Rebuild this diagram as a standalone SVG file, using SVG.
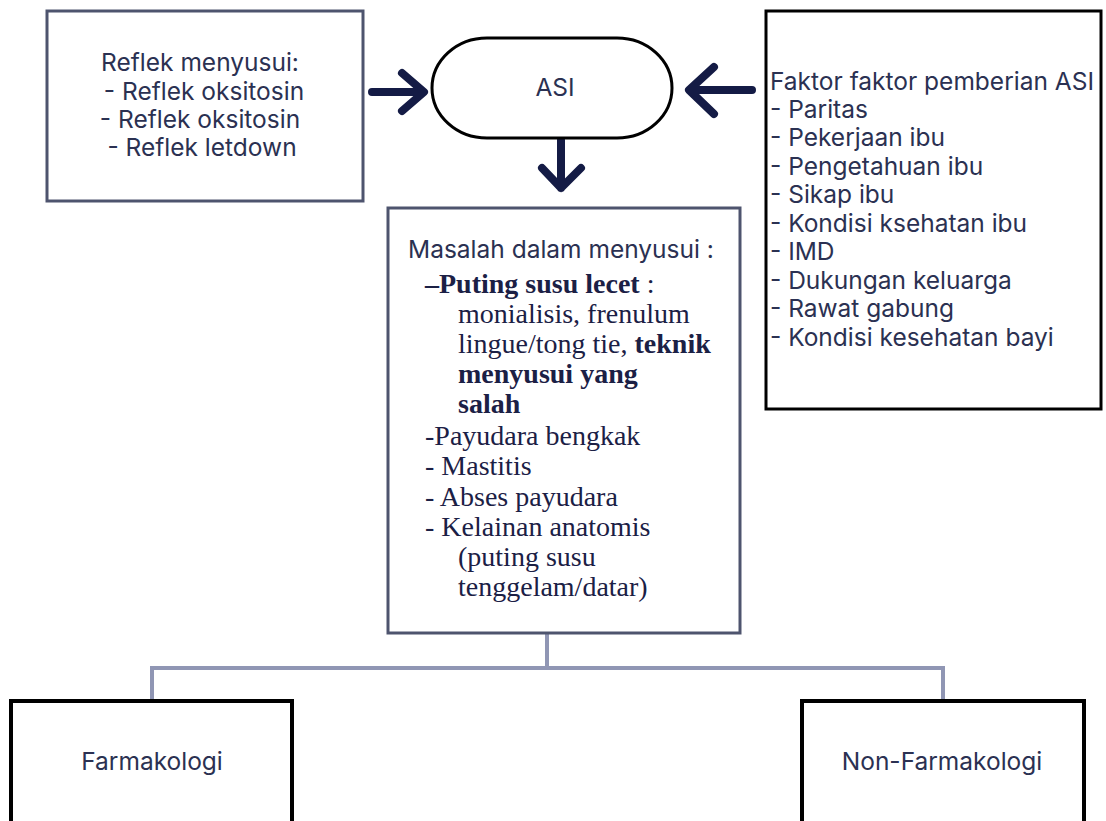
<svg xmlns="http://www.w3.org/2000/svg" width="1106" height="821" viewBox="0 0 1106 821">
<style>
.sans{font-family:Inter,"Liberation Sans",sans-serif;font-size:24.5px;fill:#2b3152}
.serif{font-family:"Liberation Serif","Times New Roman",serif;font-size:28px;fill:#1b2045}
.b{font-weight:bold}
.box{fill:#fff;stroke:#4e546e;stroke-width:3}
.blk{fill:#fff;stroke:#000;stroke-width:3}
.arr{fill:none;stroke:#141b45;stroke-width:8;stroke-linecap:round;stroke-linejoin:round}
.con{fill:none;stroke:#9096b4;stroke-width:4}
</style>
<rect width="1106" height="821" fill="#fff"/>
<g id="connectors">
<path class="con" d="M547 633 V668 M152 668 H943 M152 666 V701 M943 666 V701"/>
<path class="arr" d="M372 92 H423 M402 73 L424 92 L402 111"/>
<path class="arr" d="M752 90 H690 M714 67 L689 90 L714 114"/>
<path class="arr" d="M561 140 V188 M542 168 L561 188 L581 168"/>
</g>
<g id="refleks">
<rect class="box" x="47" y="11" width="316" height="190"/>
<text class="sans" text-anchor="middle"><tspan x="200" y="71">Reflek menyusui:</tspan><tspan x="204" y="100">- Reflek oksitosin</tspan><tspan x="200" y="128">- Reflek oksitosin</tspan><tspan x="202" y="156">- Reflek letdown</tspan></text>
</g>
<g id="asi">
<rect x="432" y="38" width="240" height="100" rx="55" ry="50" fill="#fff" stroke="#000" stroke-width="3"/>
<text class="sans" x="555" y="96" text-anchor="middle">ASI</text>
</g>
<g id="faktor">
<rect class="blk" x="766" y="11" width="335" height="398"/>
<text class="sans"><tspan x="770" y="90">Faktor faktor pemberian ASI</tspan><tspan x="770" y="118">- Paritas</tspan><tspan x="770" y="146">- Pekerjaan ibu</tspan><tspan x="770" y="175">- Pengetahuan ibu</tspan><tspan x="770" y="203">- Sikap ibu</tspan><tspan x="770" y="232">- Kondisi ksehatan ibu</tspan><tspan x="770" y="260">- IMD</tspan><tspan x="770" y="289">- Dukungan keluarga</tspan><tspan x="770" y="317">- Rawat gabung</tspan><tspan x="770" y="346">- Kondisi kesehatan bayi</tspan></text>
</g>
<g id="masalah">
<rect class="box" x="388" y="208" width="352" height="425"/>
<text class="sans" x="408" y="258">Masalah dalam menyusui :</text>
<text class="serif"><tspan x="425" y="293"><tspan class="b">–Puting susu lecet</tspan> :</tspan><tspan x="458" y="323">monialisis, frenulum</tspan><tspan x="458" y="353">lingue/tong tie, <tspan class="b">teknik</tspan></tspan><tspan x="458" y="383" class="b">menyusui yang</tspan><tspan x="458" y="413" class="b">salah</tspan><tspan x="425" y="445">-Payudara bengkak</tspan><tspan x="425" y="475">- Mastitis</tspan><tspan x="425" y="506">- Abses payudara</tspan><tspan x="425" y="536">- Kelainan anatomis</tspan><tspan x="458" y="566">(puting susu</tspan><tspan x="458" y="596">tenggelam/datar)</tspan></text>
</g>
<g id="farmakologi">
<rect x="11" y="701" width="281" height="140" fill="#fff" stroke="#000" stroke-width="4"/>
<text class="sans" x="152" y="770" text-anchor="middle">Farmakologi</text>
</g>
<g id="nonfarmakologi">
<rect x="802" y="701" width="282" height="140" fill="#fff" stroke="#000" stroke-width="4"/>
<text class="sans" x="942" y="770" text-anchor="middle">Non-Farmakologi</text>
</g>
</svg>
